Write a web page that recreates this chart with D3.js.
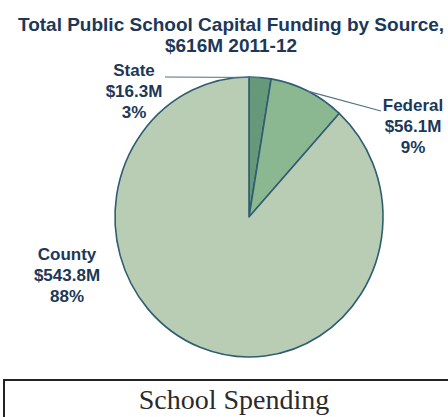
<!DOCTYPE html>
<html>
<head>
<meta charset="utf-8">
<script src="https://cdn.jsdelivr.net/npm/d3@7"></script>
<style>
  html, body { margin: 0; padding: 0; background: #ffffff; }
  svg { display: block; }
</style>
</head>
<body>
<svg id="chart" width="448" height="417"></svg>
<script>
// Capital funding sources, 2011-12 (millions of dollars)
const categories = ["State", "Federal", "County"];
const amounts = [16.3, 56.1, 543.8];
const percentLabels = ["3%", "9%", "88%"];
const titleLines = ["Total Public School Capital Funding by Source,", "$616M 2011-12"];
const footerText = "School Spending";

const sliceColors = ["#66997a", "#8bb891", "#b8cdb4"];
const navy = "#1c3858";
const edge = "#2f5d72";

const svg = d3.select("#chart");
const W = 448, H = 417;

// Title
svg.append("g").selectAll("text")
  .data(titleLines)
  .join("text")
  .attr("x", 231)
  .attr("y", (d, i) => 31 + i * 21)
  .attr("text-anchor", "middle")
  .attr("font-family", "'Liberation Sans', Arial, sans-serif")
  .attr("font-weight", "bold")
  .attr("font-size", 19)
  .attr("fill", navy)
  .text(d => d);

// Pie geometry (slightly taller than wide)
const cx = 249, cy = 217, rx = 134, ry = 140;
const R = rx;
const sy = ry / rx;

const rows = categories.map((c, i) => ({ name: c, value: amounts[i], pct: percentLabels[i], color: sliceColors[i] }));
const pie = d3.pie().value(d => d.value).sort(null);
const arcs = pie(rows);
const arc = d3.arc().innerRadius(0).outerRadius(R);

const pieG = svg.append("g")
  .attr("transform", `translate(${cx},${cy}) scale(1,${sy})`);

pieG.selectAll("path")
  .data(arcs)
  .join("path")
  .attr("d", arc)
  .attr("fill", d => d.data.color)
  .attr("stroke", edge)
  .attr("stroke-width", 1.6)
  .attr("stroke-linejoin", "round");

// Point on the pie rim at a slice's mid-angle
function rimPoint(d) {
  const a = (d.startAngle + d.endAngle) / 2;
  return [cx + R * Math.sin(a), cy - R * sy * Math.cos(a)];
}

const fmtMoney = v => "$" + d3.format(".1f")(v) + "M";

// Label layout: text centre and first baseline, plus leader-line end (if any)
const labelLayout = {
  State:   { x: 134, y: 76,  leader: [165, 77] },
  Federal: { x: 413, y: 111, leader: [381, 111] },
  County:  { x: 67,  y: 260, leader: null }
};

const lineGap = 20.8;

arcs.forEach(d => {
  const L = labelLayout[d.data.name];
  if (L.leader) {
    const p = rimPoint(d);
    svg.append("line")
      .attr("x1", p[0]).attr("y1", p[1])
      .attr("x2", L.leader[0]).attr("y2", L.leader[1])
      .attr("stroke", "#4f7284")
      .attr("stroke-width", 1.2);
  }
  const t = svg.append("text")
    .attr("text-anchor", "middle")
    .attr("font-family", "'Liberation Sans', Arial, sans-serif")
    .attr("font-weight", "bold")
    .attr("font-size", 17)
    .attr("fill", navy);
  [d.data.name, fmtMoney(d.data.value), d.data.pct].forEach((s, i) => {
    t.append("tspan").attr("x", L.x).attr("y", L.y + i * lineGap).text(s);
  });
});

// Footer box with heading
svg.append("path")
  .attr("d", `M4,${H + 5} L4,380 L${W + 5},380`)
  .attr("fill", "none")
  .attr("stroke", "#222")
  .attr("stroke-width", 2);

svg.append("text")
  .attr("x", 234)
  .attr("y", 409)
  .attr("text-anchor", "middle")
  .attr("font-family", "'Liberation Serif', 'Times New Roman', serif")
  .attr("font-size", 28)
  .attr("fill", "#2a2a2a")
  .text(footerText);
</script>
</body>
</html>
